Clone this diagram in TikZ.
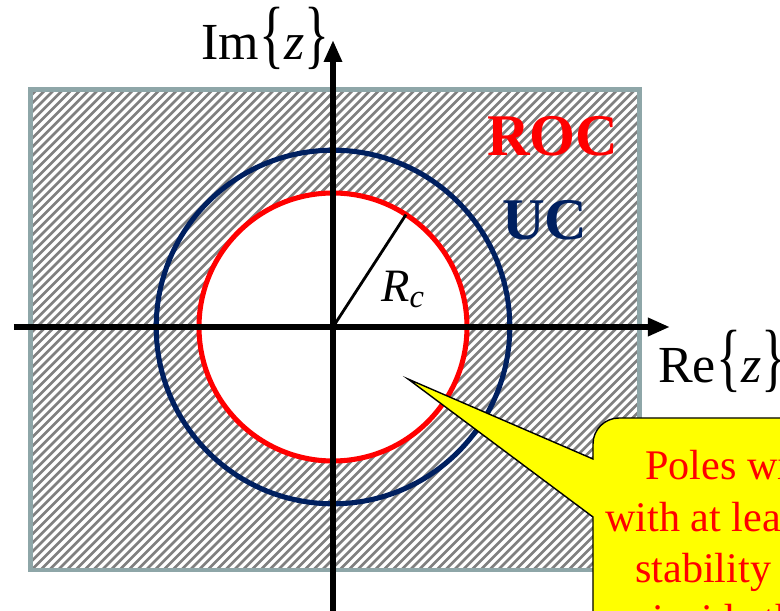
\documentclass[tikz,border=0pt]{standalone}
\usepackage{graphicx}
\usepackage{fontspec}
\setmainfont{Liberation Serif}
\usetikzlibrary{arrows.meta}
\definecolor{rocRed}{HTML}{FF0000}
\definecolor{rocNavy}{HTML}{002060}
\definecolor{rocFrame}{HTML}{8EA6A8}
\definecolor{rocHatch}{HTML}{808080}
\definecolor{rocNote}{HTML}{FFFF00}
\newcommand{\tallbrace}[1]{\scalebox{1}[1.45]{#1}}
\tikzset{
  zplane/.style={>={Triangle[length=0.55cm, width=0.43cm]}},
  zaxis/.style={draw=black, line width=4pt, ->},
  hatch/.style={draw=rocHatch, line width=1.9pt},
  rocframe/.style={draw=rocFrame, line width=3.5pt},
  unitcircle/.style={draw=rocNavy, line width=3.6pt},
  rocircle/.style={draw=rocRed, line width=3.6pt, fill=white},
  rcline/.style={draw=black, line width=2pt},
  axislabel/.style={font=\fontsize{37}{44}\selectfont, inner sep=0pt, anchor=base west},
  rclabel/.style={font=\fontsize{33}{38}\selectfont, inner sep=0pt, anchor=base west},
  regionlabel/.style={font=\fontsize{42}{50}\selectfont\bfseries, inner sep=0pt, anchor=base west},
  % gelber Kasten, ragt ueber den Bildrand hinaus
  notebox/.style={draw=black, line width=1pt, fill=rocNote},
  notetext/.style={font=\fontsize{30}{36}\selectfont, text=rocRed, inner sep=0pt, anchor=base west},
}

\begin{document}
\begin{tikzpicture}[zplane]
  \useasboundingbox (-8.325,-7.1) rectangle (11.175,8.175);
  \clip (-8.325,-7.1) rectangle (11.175,8.175);
  \coordinate (O) at (0,0);
  \begin{scope}
    \clip (-7.5625,-6.075) rectangle (7.6625,5.9375);
    \foreach \c in {-14,-13.78,...,14}
      \draw[hatch] (\c-7,-7) -- (\c+7,7);
  \end{scope}
  \draw[rocframe] (-7.5625,-6.075) rectangle (7.6625,5.9375);
  \draw[unitcircle] (O) circle[radius=4.42];
  \draw[rocircle] (O) circle[radius=3.35];
  \coordinate (Rc) at (57:3.35);
  \draw[rcline] (O) -- (Rc);
  \coordinate (ReStart) at (-7.975,0);
  \coordinate (ReEnd) at (8.425,0);
  \coordinate (ImStart) at (0,-7.4);
  \coordinate (ImEnd) at (0,7.175);
  \draw[zaxis] (ReStart) -- (ReEnd);
  \draw[zaxis] (ImStart) -- (ImEnd);
  \node[axislabel] (ImLabel) at (-3.3,6.675) {Im\tallbrace{\{}\textit{z}\tallbrace{\}}};
  \node[axislabel] (ReLabel) at (8.125,-1.4) {Re\tallbrace{\{}\textit{z}\tallbrace{\}}};
  \node[rclabel] (RcLabel) at (1.2,0.625) {\textit{R}\textsubscript{\textit{c}}};
  \node[regionlabel, text=rocRed] (ROC) at (3.85,4.275) {ROC};
  \node[regionlabel, text=rocNavy] (UC) at (4.225,2.175) {UC};
  \coordinate (tip) at (1.875,-1.3);
  \draw[notebox] (tip) -- (6.5,-4.75) -- (6.5,-7.6) -- (11.6,-7.6) -- (11.6,-2.275)
    -- (7.15,-2.275) arc[start angle=90, end angle=180, radius=0.65] -- (6.5,-3.3) -- cycle;
  \node[notetext] (NoteA) at (7.8,-3.825) {Poles within};
  \node[notetext] (NoteB) at (6.8,-5.125) {with at least};
  \node[notetext] (NoteC) at (7.55,-6.4) {stability};
  \node[notetext] (NoteD) at (7.975,-7.675) {inside the};
\end{tikzpicture}
\end{document}
